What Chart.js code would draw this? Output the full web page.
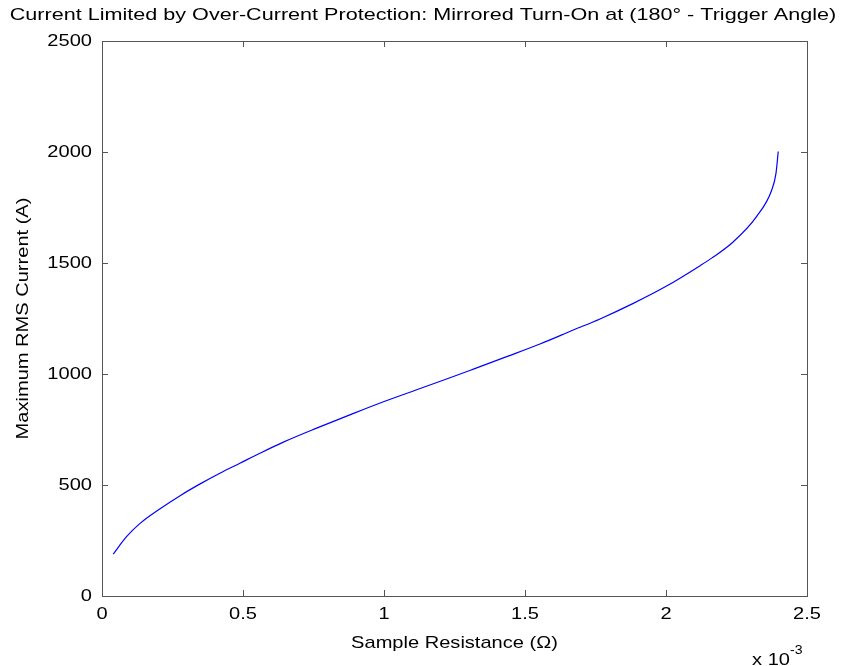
<!DOCTYPE html>
<html>
<head>
<meta charset="utf-8">
<script src="https://cdn.jsdelivr.net/npm/chart.js@4/dist/chart.umd.min.js"></script>
<style>
  html, body { margin: 0; padding: 0; background: #fff; }
  #wrap { width: 846px; height: 666px; }
</style>
</head>
<body>
<div id="wrap"><canvas id="chart" width="846" height="666"></canvas></div>
<script>
// ============================================================
// DATA (resistance in units of 1e-3 ohm, current in A)
// ============================================================
const resistance = [0.04, 0.087, 0.135, 0.206, 0.277, 0.348, 0.418, 0.489, 0.560, 0.643,
    0.761, 0.879, 0.998, 1.116, 1.234, 1.317, 1.435, 1.553, 1.671, 1.766,
    1.884, 2.002, 2.121, 2.162, 2.239, 2.321, 2.375, 2.390, 2.398];
const current = [189, 267, 327, 393, 452, 505, 553, 598, 643, 693,
    756, 816, 875, 929, 983, 1022, 1078, 1135, 1198, 1248,
    1318, 1396, 1488, 1522, 1596, 1709, 1829, 1904, 2002];

const xTicks = [0, 0.5, 1, 1.5, 2, 2.5];
const yTicks = [0, 500, 1000, 1500, 2000, 2500];

const titleText = 'Current Limited by Over-Current Protection: Mirrored Turn-On at (180\u00B0 - Trigger Angle)';
const xTitle = 'Sample Resistance (\u03A9)';
const yTitle = 'Maximum RMS Current (A)';

// ============================================================
// DRAWING HELPERS
// ============================================================
const FONT = '"Liberation Sans", Arial, Helvetica, sans-serif';
const SX = 1.18; // reference text is a bit wider than Arial

function wideText(ctx, text, x, y, size, align, baseline, sx) {
    ctx.save();
    ctx.translate(x, y);
    ctx.scale(sx || SX, 1);
    ctx.font = size + 'px ' + FONT;
    ctx.fillStyle = '#000';
    ctx.textAlign = align;
    ctx.textBaseline = baseline;
    ctx.fillText(text, 0, 0);
    ctx.restore();
}

// Matlab style box: frame, inward ticks on all sides, labels
const boxPlugin = {
    id: 'box',
    afterDraw(chart) {
        const ctx = chart.ctx;
        const a = chart.chartArea;
        const xs = chart.scales.x, ys = chart.scales.y;
        const TL = 6;

        ctx.save();
        ctx.strokeStyle = '#555';
        ctx.lineWidth = 1;
        ctx.strokeRect(Math.round(a.left) + 0.5, Math.round(a.top) + 0.5,
            Math.round(a.right - a.left), Math.round(a.bottom - a.top));

        ctx.beginPath();
        xTicks.forEach(v => {
            const px = Math.round(xs.getPixelForValue(v)) + 0.5;
            ctx.moveTo(px, a.bottom); ctx.lineTo(px, a.bottom - TL);
            ctx.moveTo(px, a.top); ctx.lineTo(px, a.top + TL);
        });
        yTicks.forEach(v => {
            const py = Math.round(ys.getPixelForValue(v)) + 0.5;
            ctx.moveTo(a.left, py); ctx.lineTo(a.left + TL, py);
            ctx.moveTo(a.right, py); ctx.lineTo(a.right - TL, py);
        });
        ctx.stroke();
        ctx.restore();

        // tick labels
        xTicks.forEach(v => wideText(ctx, String(v), xs.getPixelForValue(v), a.bottom + 18, 17, 'center', 'middle'));
        yTicks.forEach(v => wideText(ctx, String(v), a.left - 10, ys.getPixelForValue(v), 17, 'right', 'middle'));

        // titles
        wideText(ctx, titleText, 423, 20, 17, 'center', 'alphabetic', 1.27);
        wideText(ctx, xTitle, (a.left + a.right) / 2, a.bottom + 47, 17, 'center', 'middle');

        ctx.save();
        ctx.translate(23, (a.top + a.bottom) / 2);
        ctx.rotate(-Math.PI / 2);
        wideText(ctx, yTitle, 0, 0, 17, 'center', 'middle');
        ctx.restore();

        // exponent
        wideText(ctx, 'x 10', a.right - 17, 665, 17, 'right', 'alphabetic');
        wideText(ctx, '-3', a.right - 17, 654, 12, 'left', 'alphabetic');
    }
};

// ============================================================
// CHART
// ============================================================
const ctx = document.getElementById('chart').getContext('2d');
const chart = new Chart(ctx, {
    type: 'line',
    data: {
        datasets: [{
            data: resistance.map((r, i) => ({ x: r, y: current[i] })),
            borderColor: '#0000ff',
            borderWidth: 1.2,
            pointRadius: 0,
            fill: false,
            cubicInterpolationMode: 'monotone'
        }]
    },
    options: {
        responsive: false,
        animation: false,
        layout: { padding: { top: 41, right: 39, left: 0, bottom: 0 } },
        plugins: { legend: { display: false }, tooltip: { enabled: false }, title: { display: false } },
        scales: {
            x: {
                type: 'linear', min: 0, max: 2.5,
                grid: { display: false }, border: { display: false },
                ticks: { display: false },
                afterBuildTicks: s => { s.ticks = xTicks.map(v => ({ value: v })); },
                afterFit: s => { s.height = 70; }
            },
            y: {
                type: 'linear', min: 0, max: 2500,
                grid: { display: false }, border: { display: false },
                ticks: { display: false },
                afterBuildTicks: s => { s.ticks = yTicks.map(v => ({ value: v })); },
                afterFit: s => { s.width = 102; }
            }
        }
    },
    plugins: [boxPlugin]
});
</script>
</body>
</html>
